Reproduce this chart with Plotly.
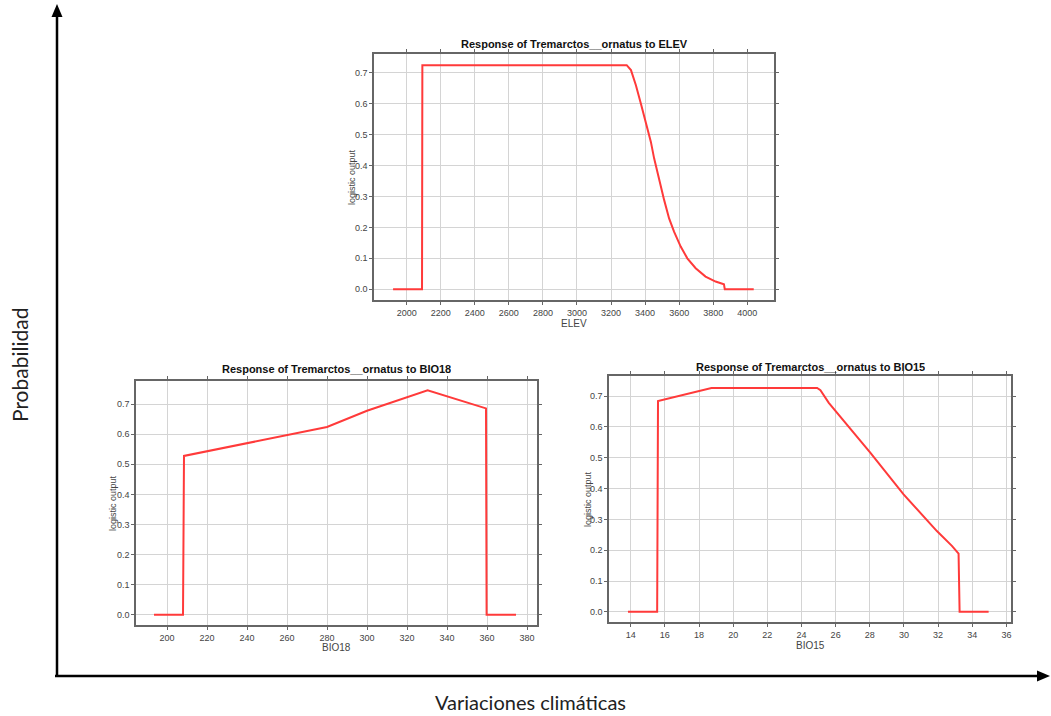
import plotly.graph_objects as go

W, H = 1051, 716

# ---- data ----
elev_x = [1920, 2090, 2092, 3292, 3317, 3346, 3375, 3405, 3434, 3453, 3483, 3512, 3541, 3570,
          3609, 3648, 3697, 3755, 3814, 3863, 3868, 4038]
elev_y = [0.0, 0.0, 0.724, 0.724, 0.708, 0.659, 0.600, 0.541, 0.476, 0.423, 0.353, 0.288, 0.229, 0.186,
          0.138, 0.100, 0.068, 0.041, 0.025, 0.016, 0.0, 0.0]

bio18_x = [193.5, 208.0, 208.5, 240, 280, 300, 330.3, 359.5, 359.8, 374.5]
bio18_y = [0.0, 0.0, 0.528, 0.571, 0.624, 0.678, 0.746, 0.686, 0.0, 0.0]

bio15_x = [13.84, 15.55, 15.6, 18.73, 24.92, 25.11, 25.6, 26.57, 28.04, 29.98, 31.06, 31.93, 32.81, 33.2, 33.26, 34.96]
bio15_y = [0.0, 0.0, 0.684, 0.726, 0.726, 0.719, 0.678, 0.613, 0.516, 0.381, 0.316, 0.262, 0.214, 0.189, 0.0, 0.0]

titles = ["Response of Tremarctos__ornatus to ELEV",
          "Response of Tremarctos__ornatus to BIO18",
          "Response of Tremarctos__ornatus to BIO15"]
xlabels = ["ELEV", "BIO18", "BIO15"]
ylabel = "logistic output"
big_ylabel = "Probabilidad"
big_xlabel = "Variaciones climáticas"

# ---- layout geometry (pixels) ----
panels = [
    dict(x0=374, x1=774, y0=54, y1=300, xr=[1808, 4157], yr=[-0.0346, 0.760], dt=200, t0=2000,
         ylab_x=352, xlab_y=323, title_y=46),
    dict(x0=136, x1=537, y0=381, y1=625, xr=[184.5, 385], yr=[-0.034, 0.777], dt=20, t0=200,
         ylab_x=113, xlab_y=647, title_y=371),
    dict(x0=609, x1=1011, y0=376, y1=622, xr=[12.73, 36.27], yr=[-0.033, 0.765], dt=2, t0=14,
         ylab_x=588, xlab_y=645, title_y=369),
]

def px(x):
    return x / W

def py(y):
    return 1 - y / H

fig = go.Figure()
series = [(elev_x, elev_y), (bio18_x, bio18_y), (bio15_x, bio15_y)]
tickfont = dict(family="Liberation Sans, Arial", size=9, color="#444")
annotations = []
for i, (p, (sx, sy)) in enumerate(zip(panels, series)):
    n = "" if i == 0 else str(i + 1)
    fig.add_trace(go.Scatter(x=sx, y=sy, mode="lines", line=dict(color="#ff3a3a", width=2),
                             xaxis="x" + n, yaxis="y" + n, showlegend=False, hoverinfo="skip"))
    common = dict(showline=True, linecolor="#666", linewidth=1.5, mirror="ticks",
                  showgrid=True, gridcolor="#d4d4d4", gridwidth=1, zeroline=False,
                  ticks="outside", ticklen=3, tickcolor="#666", tickfont=tickfont)
    fig.update_layout(**{
        "xaxis" + n: dict(domain=[px(p["x0"]), px(p["x1"])], range=p["xr"], anchor="y" + n,
                          tick0=p["t0"], dtick=p["dt"], **common),
        "yaxis" + n: dict(domain=[py(p["y1"]), py(p["y0"])], range=p["yr"], anchor="x" + n,
                          tick0=0, dtick=0.1, tickformat=".1f", **common),
    })
    cx = (p["x0"] + p["x1"]) / 2
    annotations.append(dict(text="<b>" + titles[i] + "</b>", x=px(cx), y=py(p["title_y"]),
                            xref="paper", yref="paper", xanchor="center", yanchor="middle",
                            showarrow=False, height=16, valign="top",
                            font=dict(family="Liberation Sans, Arial", size=11, color="#111")))
    annotations.append(dict(text=xlabels[i], x=px(cx), y=py(p["xlab_y"]),
                            xref="paper", yref="paper", xanchor="center", yanchor="middle",
                            showarrow=False, font=dict(family="Liberation Sans, Arial", size=10, color="#444")))
    annotations.append(dict(text=ylabel, x=px(p["ylab_x"]), y=py((p["y0"] + p["y1"]) / 2),
                            xref="paper", yref="paper", xanchor="center", yanchor="middle", textangle=-90,
                            showarrow=False, font=dict(family="Liberation Sans, Arial", size=9, color="#444")))

annotations.append(dict(text=big_ylabel, x=px(19), y=py(365), xref="paper", yref="paper",
                        xanchor="center", yanchor="middle", textangle=-90, showarrow=False,
                        font=dict(family="Lato, Open Sans", size=21, color="#222")))
annotations.append(dict(text=big_xlabel, x=px(530), y=py(702), xref="paper", yref="paper",
                        xanchor="center", yanchor="middle", showarrow=False, borderpad=0,
                        font=dict(family="Lato, Open Sans", size=20, color="#222")))

shapes = [
    dict(type="line", xref="paper", yref="paper", x0=px(57), x1=px(57), y0=py(677), y1=py(14),
         line=dict(color="black", width=2.5)),
    dict(type="line", xref="paper", yref="paper", x0=px(55), x1=px(1040), y0=py(676), y1=py(676),
         line=dict(color="black", width=2.5)),
    dict(type="path", xref="paper", yref="paper",
         path=f"M {px(57)},{py(4)} L {px(51.5)},{py(17)} L {px(62.5)},{py(17)} Z",
         fillcolor="black", line=dict(color="black", width=0)),
    dict(type="path", xref="paper", yref="paper",
         path=f"M {px(1050)},{py(676)} L {px(1037)},{py(670.5)} L {px(1037)},{py(681.5)} Z",
         fillcolor="black", line=dict(color="black", width=0)),
]

fig.update_layout(width=W, height=H, margin=dict(l=0, r=0, t=0, b=0),
                  paper_bgcolor="white", plot_bgcolor="white",
                  annotations=annotations, shapes=shapes)

fig.write_html("out.html")
